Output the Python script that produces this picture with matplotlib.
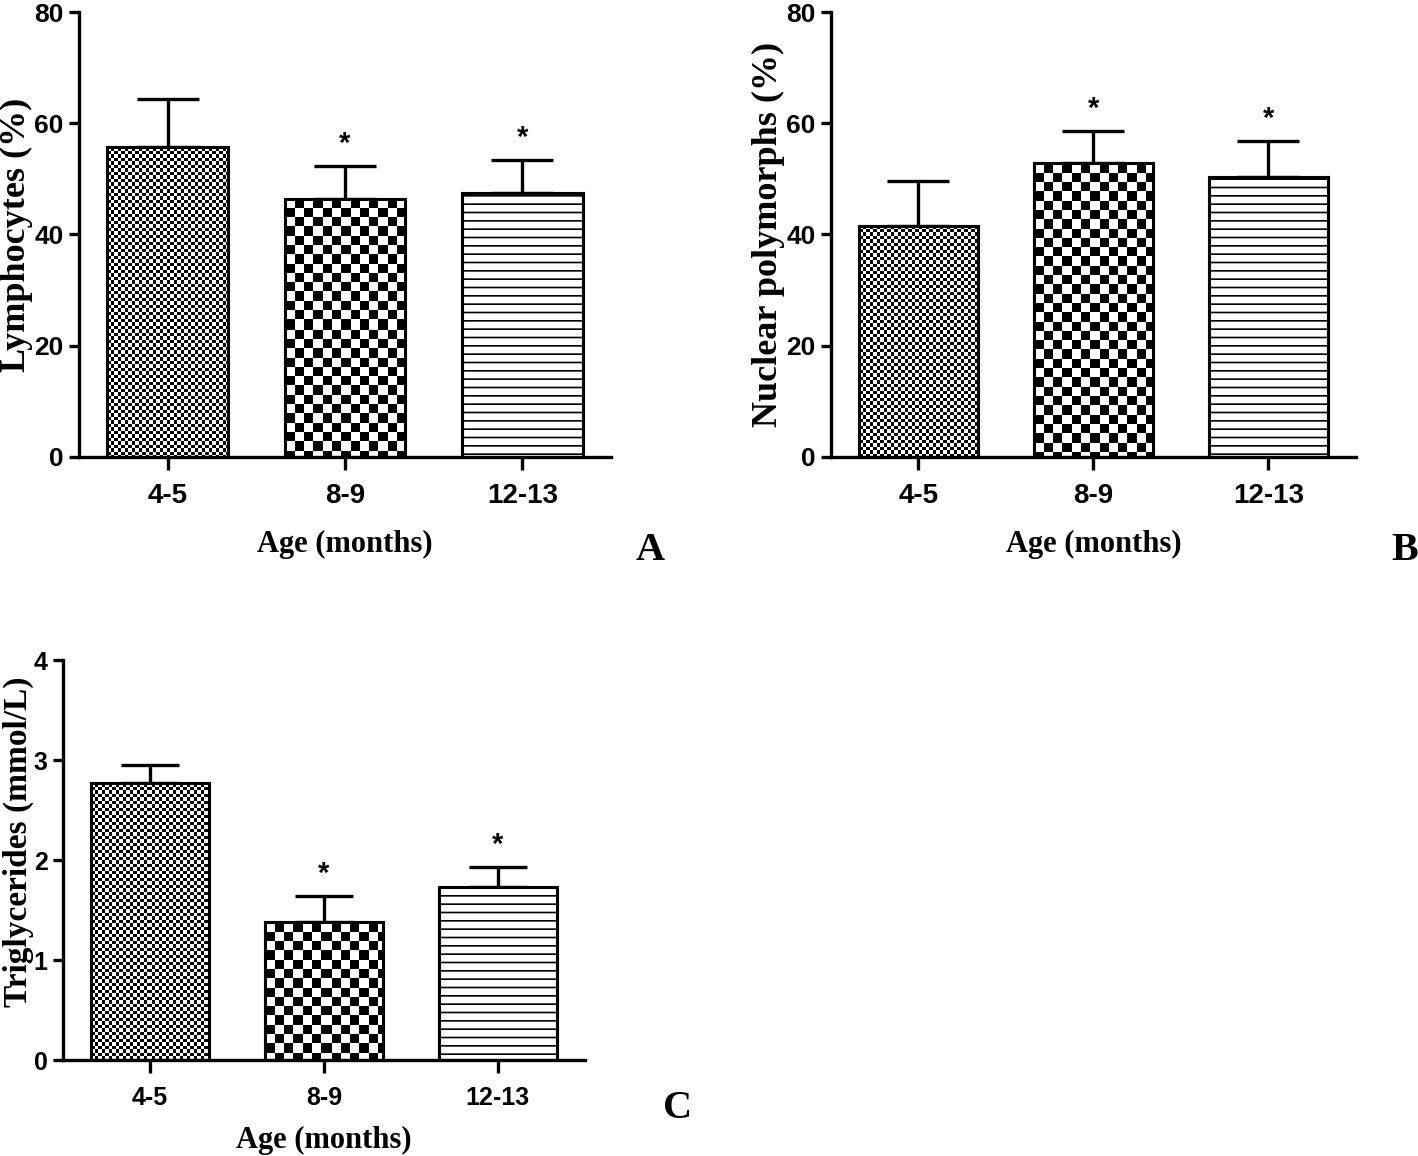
import numpy as np
import matplotlib
matplotlib.use("Agg")
import matplotlib.pyplot as plt

# data (mean + upper SEM)
ages = ["4-5", "8-9", "12-13"]

lymph_mean = [55.7, 46.4, 47.5]
lymph_err = [8.7, 6.0, 5.9]
lymph_sig = [False, True, True]

poly_mean = [41.6, 52.8, 50.3]
poly_err = [8.1, 5.8, 6.5]
poly_sig = [False, True, True]

trig_mean = [2.77, 1.38, 1.73]
trig_err = [0.18, 0.26, 0.20]
trig_sig = [False, True, True]

SANS = ["Liberation Sans Narrow", "Liberation Sans", "DejaVu Sans"]
SERIF = ["Liberation Serif", "DejaVu Serif"]

plt.rcParams["hatch.linewidth"] = 1.2


def checker_fill(ax, bar, cell):
    """Paint a checkerboard inside a bar (pixel-aligned image clipped to the bar)."""
    bb = bar.get_window_extent()
    w = max(int(round(bb.width)), 1)
    h = max(int(round(bb.height)), 1)
    jj, ii = np.meshgrid(np.arange(w), np.arange(h))
    img = (np.floor(jj / cell) + np.floor(ii / cell)) % 2
    x0 = bar.get_x()
    im = ax.imshow(img, cmap="binary", vmin=0, vmax=1, origin="upper",
                   extent=(x0, x0 + bar.get_width(), bar.get_y(), bar.get_y() + bar.get_height()),
                   interpolation="nearest", aspect="auto", zorder=2.5)
    im.set_clip_path(bar)


def panel(ax, means, errs, sig, ylim, yticks, ylabel, tick_fs, xtick_fs, label_fs, capsize):
    x = np.arange(len(ages))
    width = 0.68
    ax.set_xlim(-0.5, 2.5)
    ax.set_ylim(*ylim)

    bars = ax.bar(x, means, width=width, color="white", edgecolor="black",
                  linewidth=2.2, zorder=2)
    bars[2].set_hatch("--")
    checker_fill(ax, bars[0], 3.5)
    checker_fill(ax, bars[1], 9.3)
    ax.bar(x, means, width=width, fill=False, edgecolor="black", linewidth=2.2, zorder=3)

    ax.errorbar(x, means, yerr=[np.zeros(len(errs)), errs], fmt="none", ecolor="black",
                elinewidth=2.4, capsize=capsize, capthick=2.4, zorder=1.5)

    for xi, m, e, s in zip(x, means, errs, sig):
        if s:
            ax.annotate("*", (xi, m + e), xytext=(0, 10), textcoords="offset points",
                        ha="center", va="baseline", fontsize=21, fontweight="bold",
                        family=SANS)

    for side in ("top", "right"):
        ax.spines[side].set_visible(False)
    for side in ("left", "bottom"):
        ax.spines[side].set_linewidth(2.4)
    ax.spines["left"].set_bounds(ylim[0], ylim[1])

    ax.set_yticks(yticks)
    ax.set_xticks(x)
    ax.set_xticklabels(ages)
    ax.tick_params(axis="y", length=7, width=2.4, pad=4, labelsize=tick_fs)
    ax.tick_params(axis="x", length=9, width=2.4, pad=10, labelsize=xtick_fs)
    for t in ax.get_xticklabels() + ax.get_yticklabels():
        t.set_fontfamily(SANS)
        t.set_fontweight("bold")

    ax.set_ylabel(ylabel, fontsize=label_fs, fontweight="bold", family=SERIF)
    ax.set_xlabel("Age (months)", fontsize=22, fontweight="bold", family=SERIF)


fig = plt.figure(figsize=(14.18, 11.56), dpi=100)

axA = fig.add_axes([0.0557, 0.6047, 0.3752, 0.3849])
axB = fig.add_axes([0.5860, 0.6047, 0.3702, 0.3849])
axC = fig.add_axes([0.0444, 0.0830, 0.3681, 0.3460])

panel(axA, lymph_mean, lymph_err, lymph_sig, (0, 80), [0, 20, 40, 60, 80],
      "Lymphocytes (%)", 19, 20, 26, 22)
panel(axB, poly_mean, poly_err, poly_sig, (0, 80), [0, 20, 40, 60, 80],
      "Nuclear polymorphs (%)", 19, 20, 26, 22)
panel(axC, trig_mean, trig_err, trig_sig, (0, 4), [0, 1, 2, 3, 4],
      "Triglycerides (mmol/L)", 18, 18, 24, 21)

# label placement (axes fraction)
axA.xaxis.set_label_coords(0.5, -0.165)
axB.xaxis.set_label_coords(0.5, -0.165)
axC.xaxis.set_label_coords(0.5, -0.165)
axA.yaxis.set_label_coords(-0.086, 0.5)
axB.yaxis.set_label_coords(-0.087, 0.5)
axC.yaxis.set_label_coords(-0.055, 0.545)

fig.text(650 / 1418, 1 - 550 / 1156, "A", fontsize=29, fontweight="bold", family=SERIF,
         ha="center", va="center")
fig.text(1405 / 1418, 1 - 550 / 1156, "B", fontsize=29, fontweight="bold", family=SERIF,
         ha="center", va="center")
fig.text(678 / 1418, 1 - 1108 / 1156, "C", fontsize=29, fontweight="bold", family=SERIF,
         ha="center", va="center")

fig.savefig("out.png", dpi=100)
